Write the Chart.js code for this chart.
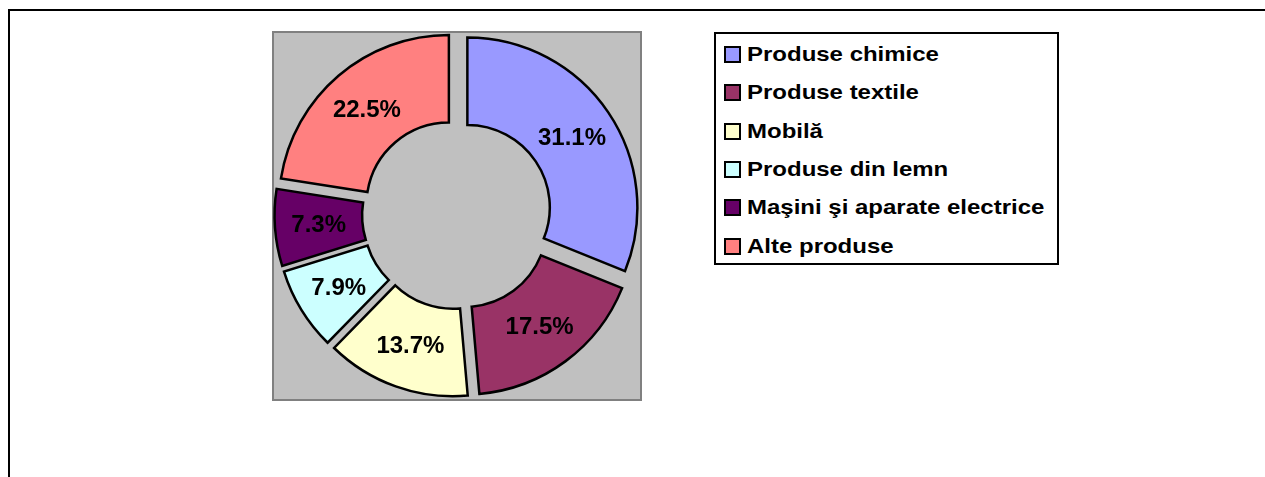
<!DOCTYPE html>
<html>
<head>
<meta charset="utf-8">
<script src="https://cdn.jsdelivr.net/npm/chart.js@4/dist/chart.umd.min.js"></script>
<style>
  html, body { margin: 0; padding: 0; background: #fff; width: 1265px; height: 477px; overflow: hidden; position: relative; font-family: "Liberation Sans", Arial, sans-serif; }
  #frame { position: absolute; left: 8px; top: 9px; width: 2000px; height: 2000px; border-top: 2px solid #000; border-left: 2px solid #000; }
  #plot { position: absolute; left: 272px; top: 31px; width: 370px; height: 370px; box-sizing: border-box; background: #C0C0C0; border: 2px solid #808080; }
  #wrap { position: absolute; left: 272px; top: 30px; width: 370px; height: 369px; }
  #legend { position: absolute; left: 714px; top: 32px; width: 345px; height: 233px; box-sizing: border-box; border: 2px solid #000; background: #fff; }
  .row { position: absolute; left: 0; height: 24px; width: 100%; }
  .sw { position: absolute; left: 8px; top: 4px; width: 17px; height: 17px; box-sizing: border-box; border: 2px solid #000; }
  .tx { position: absolute; left: 31px; top: 0; line-height: 24px; font-size: 20.5px; font-weight: bold; color: #000; white-space: nowrap; transform: scaleX(1.17); transform-origin: left center; }
</style>
</head>
<body>
<div id="frame"></div>
<div id="plot"></div>
<div id="wrap"><canvas id="c" width="370" height="369"></canvas></div>
<div id="legend"></div>
<script>
const categories = ["Produse chimice", "Produse textile", "Mobilă", "Produse din lemn", "Maşini şi aparate electrice", "Alte produse"];
const shares = [31.1, 17.5, 13.7, 7.9, 7.3, 22.5];
const colors = ["#9999FF", "#993366", "#FFFFCC", "#CCFFFF", "#660066", "#FF8080"];

// Pure radial explosion (no extra radius push for small slices)
const origDraw = Chart.ArcElement.prototype.draw;
Chart.ArcElement.prototype.draw = function (ctx) {
  const c = this.circumference;
  this.circumference = Math.PI / 2;
  origDraw.call(this, ctx);
  this.circumference = c;
};

const labelPlugin = {
  id: 'pctLabels',
  afterDatasetsDraw(chart) {
    const ctx = chart.ctx;
    const meta = chart.getDatasetMeta(0);
    ctx.save();
    ctx.font = 'bold 24px "Liberation Sans", Arial, sans-serif';
    ctx.fillStyle = '#000';
    ctx.textAlign = 'center';
    ctx.textBaseline = 'middle';
    meta.data.forEach((arc, i) => {
      const mid = (arc.startAngle + arc.endAngle) / 2;
      const off = (arc.options.offset || 0) / 4;
      const r = (arc.innerRadius + arc.outerRadius) / 2 + off;
      const x = arc.x + Math.cos(mid) * r;
      const y = arc.y + Math.sin(mid) * r;
      ctx.fillText(shares[i].toFixed(1) + '%', x, y + 1);
    });
    ctx.restore();
  }
};

new Chart(document.getElementById('c'), {
  type: 'doughnut',
  data: {
    labels: categories,
    datasets: [{
      data: shares,
      backgroundColor: colors,
      borderColor: '#000',
      borderWidth: 2.5,
      borderJoinStyle: 'miter',
      offset: 50
    }]
  },
  options: {
    responsive: false,
    animation: false,
    events: [],
    radius: 170,
    cutout: '48.5%',
    layout: { padding: 0 },
    plugins: { legend: { display: false }, tooltip: { enabled: false } }
  },
  plugins: [labelPlugin]
});

const lg = document.getElementById('legend');
categories.forEach((name, i) => {
  const row = document.createElement('div');
  row.className = 'row';
  row.style.top = (8 + i * 38.3) + 'px';
  const sw = document.createElement('div');
  sw.className = 'sw';
  sw.style.background = colors[i];
  const tx = document.createElement('div');
  tx.className = 'tx';
  tx.textContent = name;
  row.appendChild(sw);
  row.appendChild(tx);
  lg.appendChild(row);
});
</script>
</body>
</html>
